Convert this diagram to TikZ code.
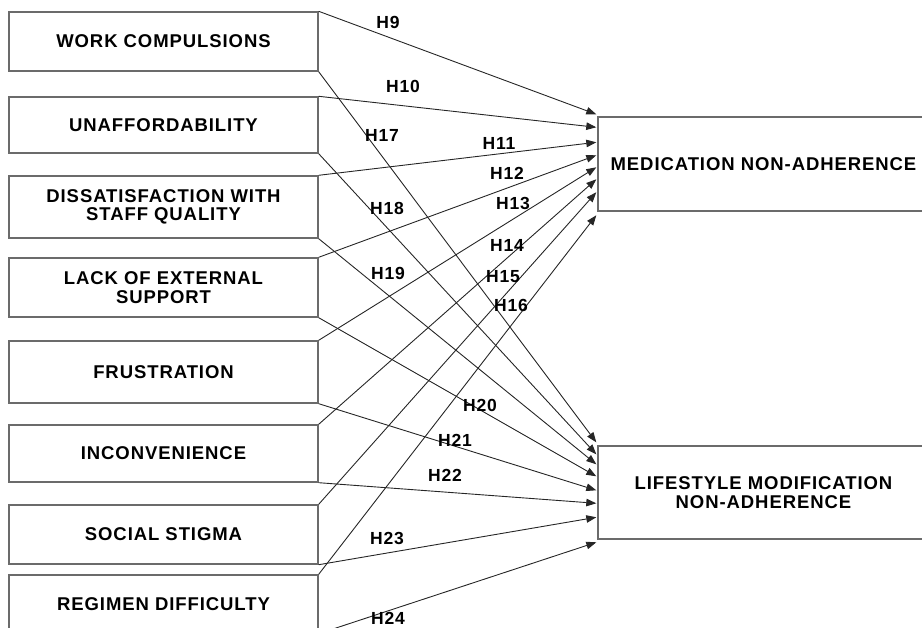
\documentclass[tikz,border=0pt]{standalone}
\usepackage{fontspec}
\setmainfont{Liberation Sans}[LetterSpace=5]
\usetikzlibrary{arrows.meta,calc}
\begin{document}
\begin{tikzpicture}[x=1pt,y=-1pt,
  lbox/.style={draw=black!58,line width=1.4pt,minimum width=309pt,inner sep=0pt,align=center,font=\fontsize{18.5}{18.5}\selectfont\bfseries},
  rbox/.style={draw=black!58,line width=1.4pt,minimum width=331pt,inner sep=0pt,align=center,font=\fontsize{18.5}{19}\selectfont\bfseries},
  hyp/.style={font=\fontsize{17.5}{18}\selectfont\bfseries,inner sep=1pt},
  link/.style={draw=black!85,line width=0.9pt,-{Triangle[length=10pt,width=7.5pt]}}]
\useasboundingbox (0,0) rectangle (922,628);
\clip (0,0) rectangle (922,628);
% left boxes
\node[lbox,minimum height=59pt] (b1) at (163.5,41.5) {WORK COMPULSIONS};
\node[lbox,minimum height=56pt] (b2) at (163.5,125) {UNAFFORDABILITY};
\node[lbox,minimum height=62pt] (b3) at (163.5,207) {DISSATISFACTION WITH\\STAFF QUALITY};
\node[lbox,minimum height=59pt] (b4) at (163.5,287.5) {LACK OF EXTERNAL\\SUPPORT};
\node[lbox,minimum height=62pt] (b5) at (163.5,372) {FRUSTRATION};
\node[lbox,minimum height=57pt] (b6) at (163.5,453.5) {INCONVENIENCE};
\node[lbox,minimum height=59pt] (b7) at (163.5,534.5) {SOCIAL STIGMA};
\node[lbox,minimum height=58pt] (b8) at (163.5,604) {REGIMEN DIFFICULTY};
% right boxes
\node[rbox,minimum height=94pt] (med) at (763.5,164) {MEDICATION NON-ADHERENCE};
\node[rbox,minimum height=93pt] (life) at (763.5,492.5) {LIFESTYLE MODIFICATION\\NON-ADHERENCE};
% target points
\foreach \n/\dy in {9/-2,10/11,11/26,12/39,13/51,14/63,15/76,16/99}{
  \coordinate (m\n) at ($(med.north west)+(-1,\dy)$);}
\foreach \n/\dy in {17/-3,18/9,19/19,20/31,21/45,22/58,23/72,24/97}{
  \coordinate (l\n) at ($(life.north west)+(-1,\dy)$);}
% connectors
\draw[link] (b1.north east) -- (m9);
\draw[link] (b2.north east) -- (m10);
\draw[link] (b3.north east) -- (m11);
\draw[link] (b4.north east) -- (m12);
\draw[link] (b5.north east) -- (m13);
\draw[link] (b6.north east) -- (m14);
\draw[link] (b7.north east) -- (m15);
\draw[link] (b8.north east) -- (m16);
\draw[link] (b1.south east) -- (l17);
\draw[link] (b2.south east) -- (l18);
\draw[link] (b3.south east) -- (l19);
\draw[link] (b4.south east) -- (l20);
\draw[link] (b5.south east) -- (l21);
\draw[link] (b6.south east) -- (l22);
\draw[link] (b7.south east) -- (l23);
\draw[link] (b8.south east) -- (l24);
% labels
\node[hyp] (t9) at (388,22.5) {H9};
\node[hyp] (t10) at (403,86) {H10};
\node[hyp] (t17) at (382,135) {H17};
\node[hyp] (t11) at (499,143) {H11};
\node[hyp] (t12) at (507,173) {H12};
\node[hyp] (t13) at (513,203) {H13};
\node[hyp] (t18) at (387,208) {H18};
\node[hyp] (t14) at (507,245) {H14};
\node[hyp] (t19) at (388,273) {H19};
\node[hyp] (t15) at (503,277) {H15};
\node[hyp] (t16) at (511,305) {H16};
\node[hyp] (t20) at (480,405) {H20};
\node[hyp] (t21) at (455,440) {H21};
\node[hyp] (t22) at (445,475) {H22};
\node[hyp] (t23) at (387,538) {H23};
\node[hyp] (t24) at (388,618) {H24};
\end{tikzpicture}
\end{document}
